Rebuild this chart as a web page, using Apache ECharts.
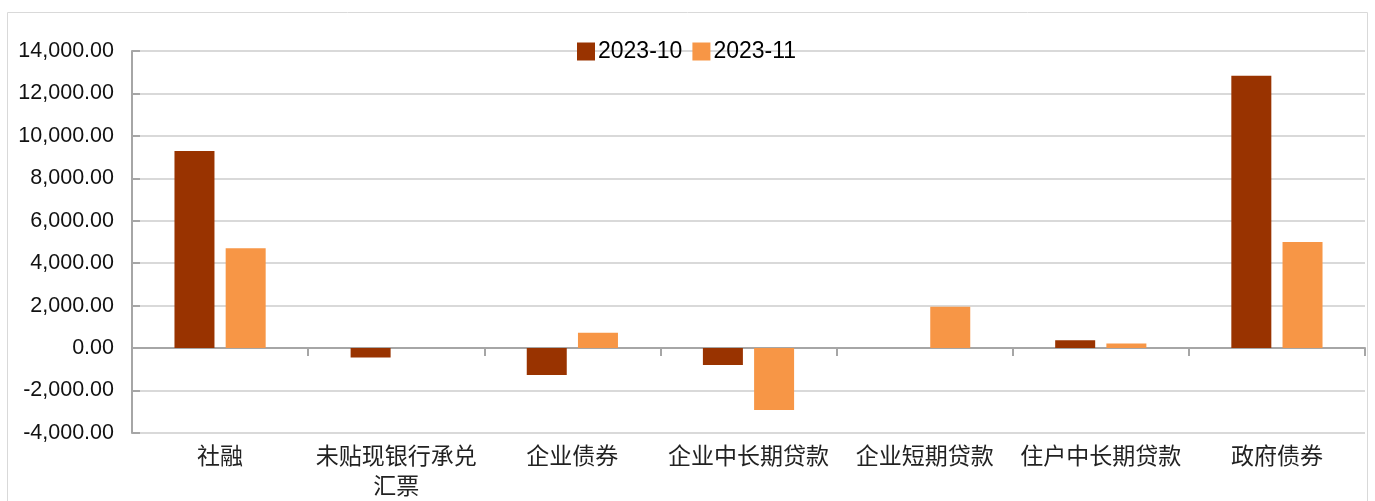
<!DOCTYPE html>
<html>
<head>
<meta charset="utf-8">
<script src="https://cdn.jsdelivr.net/npm/echarts@6/dist/echarts.min.js"></script>
<style>
  html, body { margin: 0; padding: 0; background: #fff; }
  #chart { width: 1375px; height: 501px; }
</style>
</head>
<body>
<div id="chart"></div>
<script>
const categories = ['社融', '未贴现银行承兑\n汇票', '企业债券', '企业中长期贷款', '企业短期贷款', '住户中长期贷款', '政府债券']
const seriesNames = ['2023-10', '2023-11']
const oct = [9290, -440, -1270, -800, 0, 370, 12830]
const nov = [4710, 0, 720, -2920, 1950, 220, 5000]
const colors = ['#993300', '#f79646']

const font = '"Noto Sans CJK SC", sans-serif'
const chart = echarts.init(document.getElementById('chart'))

chart.setOption({
  animation: false,
  textStyle: { fontFamily: font },
  graphic: [{
    type: 'rect',
    shape: { x: 7.5, y: 12.5, width: 1360, height: 520 },
    style: { fill: 'none', stroke: '#d9d9d9', lineWidth: 1 },
    silent: true
  }],
  legend: {
    top: 35,
    left: 572,
    itemWidth: 18,
    itemHeight: 18,
    itemGap: 10,
    icon: 'rect',
    textStyle: { fontSize: 23, color: '#000', fontFamily: 'Liberation Sans, Arial, sans-serif', padding: [0, 0, 0, -2] },
    data: seriesNames
  },
  grid: { left: 132, right: 10, top: 51, bottom: 68 },
  xAxis: [{
    type: 'category',
    data: categories,
    axisLine: { onZero: true, lineStyle: { color: '#a6a6a6', width: 2 } },
    axisTick: { show: true, length: 8, lineStyle: { color: '#a6a6a6', width: 2 } },
    axisLabel: { show: false },
    splitLine: { show: false }
  }, {
    type: 'category',
    data: categories,
    position: 'bottom',
    axisLine: { show: false, onZero: false },
    axisTick: { show: false },
    axisLabel: { show: true, interval: 0, margin: 7, fontSize: 23, lineHeight: 30, color: '#222', fontFamily: font },
    splitLine: { show: false }
  }],
  yAxis: {
    type: 'value',
    min: -4000,
    max: 14000,
    interval: 2000,
    axisLine: { show: true, lineStyle: { color: '#a6a6a6', width: 2 } },
    axisTick: { show: true, inside: true, length: 8, lineStyle: { color: '#a6a6a6', width: 2 } },
    axisLabel: {
      margin: 18,
      fontSize: 21.5,
      color: '#111',
      fontFamily: 'Liberation Sans, Arial, sans-serif',
      formatter: v => v.toLocaleString('en-US', { minimumFractionDigits: 2, maximumFractionDigits: 2 })
    },
    splitLine: { show: true, lineStyle: { color: '#d9d9d9', width: 2 } }
  },
  series: [{
    name: seriesNames[0],
    type: 'bar',
    data: oct,
    barWidth: 40,
    barGap: '28%',
    itemStyle: { color: colors[0] }
  }, {
    name: seriesNames[1],
    type: 'bar',
    data: nov,
    barWidth: 40,
    barGap: '28%',
    itemStyle: { color: colors[1] }
  }]
})
</script>
</body>
</html>
